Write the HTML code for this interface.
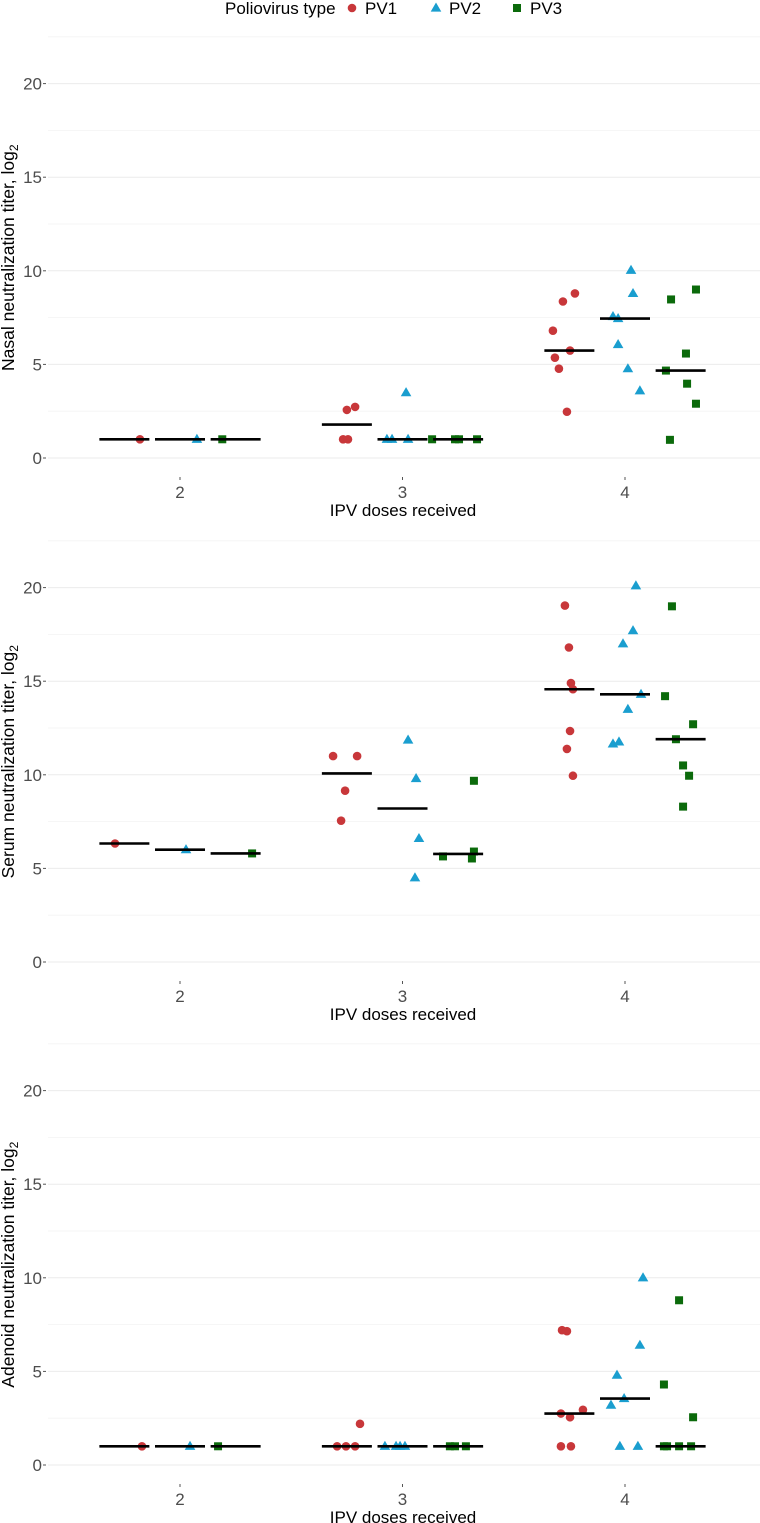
<!DOCTYPE html>
<html><head><meta charset="utf-8"><style>
body{margin:0;background:#fff}
svg{display:block;font-family:"Liberation Sans",sans-serif}
</style></head><body>
<svg id="chart" width="760" height="1523" viewBox="0 0 760 1523"></svg>
<script>
const doses=[2,3,4];
const types=["PV1","PV2","PV3"];
const colors={PV1:"#c8373a",PV2:"#1a9ecf",PV3:"#0b6a0b"};
const yTicks=[0,5,10,15,20];
const yMinor=[2.5,7.5,12.5,17.5,22.5];
const panelTitles=["Nasal","Serum","Adenoid"];
// points: [dose, type, jittered x (dose units), value]
const nasal=[
[2,"PV1",1.82,1],[2,"PV2",2.076,1],[2,"PV3",2.19,1],
[3,"PV1",2.733,1],[3,"PV1",2.755,1],[3,"PV1",2.75,2.57],[3,"PV1",2.787,2.73],
[3,"PV2",2.93,1],[3,"PV2",2.953,1],[3,"PV2",3.025,1],[3,"PV2",3.016,3.49],
[3,"PV3",3.133,1],[3,"PV3",3.236,1],[3,"PV3",3.254,1],[3,"PV3",3.335,1],
[4,"PV1",3.775,8.79],[4,"PV1",3.721,8.36],[4,"PV1",3.676,6.8],[4,"PV1",3.753,5.74],[4,"PV1",3.685,5.36],[4,"PV1",3.703,4.77],[4,"PV1",3.739,2.47],
[4,"PV2",4.027,10.03],[4,"PV2",4.036,8.79],[4,"PV2",3.946,7.56],[4,"PV2",3.969,7.45],[4,"PV2",3.969,6.06],[4,"PV2",4.013,4.77],[4,"PV2",4.067,3.59],
[4,"PV3",4.319,9.0],[4,"PV3",4.207,8.47],[4,"PV3",4.274,5.58],[4,"PV3",4.184,4.67],[4,"PV3",4.279,3.97],[4,"PV3",4.319,2.9],[4,"PV3",4.202,0.97]
];
const serum=[
[2,"PV1",1.708,6.33],[2,"PV2",2.027,6.0],[2,"PV3",2.324,5.8],
[3,"PV1",2.688,11.0],[3,"PV1",2.796,11.0],[3,"PV1",2.742,9.15],[3,"PV1",2.724,7.55],
[3,"PV2",3.025,11.86],[3,"PV2",3.061,9.8],[3,"PV2",3.074,6.6],[3,"PV2",3.056,4.5],
[3,"PV3",3.321,9.68],[3,"PV3",3.182,5.64],[3,"PV3",3.321,5.9],[3,"PV3",3.312,5.53],
[4,"PV1",3.73,19.04],[4,"PV1",3.748,16.8],[4,"PV1",3.757,14.9],[4,"PV1",3.766,14.57],[4,"PV1",3.753,12.34],[4,"PV1",3.739,11.38],[4,"PV1",3.766,9.95],
[4,"PV2",4.049,20.1],[4,"PV2",4.036,17.7],[4,"PV2",3.991,17.0],[4,"PV2",4.072,14.3],[4,"PV2",4.013,13.5],[4,"PV2",3.946,11.65],[4,"PV2",3.973,11.76],
[4,"PV3",4.211,19.0],[4,"PV3",4.18,14.2],[4,"PV3",4.306,12.7],[4,"PV3",4.229,11.9],[4,"PV3",4.261,10.5],[4,"PV3",4.288,9.95],[4,"PV3",4.261,8.3]
];
const adenoid=[
[2,"PV1",1.829,1],[2,"PV2",2.045,1],[2,"PV3",2.171,1],
[3,"PV1",2.706,1],[3,"PV1",2.746,1],[3,"PV1",2.787,1],[3,"PV1",2.809,2.2],
[3,"PV2",2.921,1],[3,"PV2",2.971,1],[3,"PV2",2.989,1],[3,"PV2",3.011,1],
[3,"PV3",3.213,1],[3,"PV3",3.236,1],[3,"PV3",3.285,1],
[4,"PV1",3.717,7.2],[4,"PV1",3.739,7.15],[4,"PV1",3.811,2.95],[4,"PV1",3.712,2.75],[4,"PV1",3.753,2.55],[4,"PV1",3.712,1],[4,"PV1",3.757,1],
[4,"PV2",4.081,10.0],[4,"PV2",4.067,6.4],[4,"PV2",3.964,4.8],[4,"PV2",3.996,3.55],[4,"PV2",3.937,3.2],[4,"PV2",3.977,1],[4,"PV2",4.058,1],
[4,"PV3",4.243,8.8],[4,"PV3",4.175,4.3],[4,"PV3",4.306,2.55],[4,"PV3",4.175,1],[4,"PV3",4.189,1],[4,"PV3",4.243,1],[4,"PV3",4.297,1]
];
const panels=[nasal,serum,adenoid];

const NS="http://www.w3.org/2000/svg";
const svg=document.getElementById("chart");
function mk(tag,attrs,parent){const e=document.createElementNS(NS,tag);for(const k in attrs)e.setAttribute(k,attrs[k]);(parent||svg).appendChild(e);return e;}
const panelZero=[458,962,1465];
const pxPerUnit=18.72;
const xScale=d=>180+(d-2)*222.5;
const typeOffset={PV1:-0.25,PV2:0,PV3:0.25};
function median(a){a=a.slice().sort((p,q)=>p-q);const n=a.length;return n%2?a[(n-1)/2]:(a[n/2-1]+a[n/2])/2;}
function marker(g,type,cx,cy){
  let e;
  if(type==="PV1") e=mk("circle",{cx:cx,cy:cy,r:4.3,fill:colors.PV1},g);
  else if(type==="PV2") e=mk("polygon",{points:`${cx},${cy-5.5} ${cx+5.3},${cy+3.6} ${cx-5.3},${cy+3.6}`,fill:colors.PV2},g);
  else e=mk("rect",{x:cx-4,y:cy-4,width:8,height:8,fill:colors.PV3},g);
  return e;
}

panels.forEach((data,pi)=>{
  const y0=panelZero[pi];
  const yS=v=>y0-v*pxPerUnit;
  const g=mk("g",{});
  
  
  yMinor.forEach(v=>{mk("line",{x1:48,x2:760,y1:yS(v),y2:yS(v),stroke:"#f3f3f3","stroke-width":0.8},g);});
  yTicks.forEach(v=>{
    mk("line",{x1:48,x2:760,y1:yS(v),y2:yS(v),stroke:"#ebebeb","stroke-width":1},g);
    mk("line",{x1:43,x2:46,y1:yS(v),y2:yS(v),stroke:"#555","stroke-width":1},g);
    const t=mk("text",{x:42,y:yS(v)+6,"text-anchor":"end","font-size":17,fill:"#4d4d4d"},g);
    t.textContent=v;
    
    
  });
  doses.forEach(d=>{
    mk("line",{x1:xScale(d),x2:xScale(d),y1:y0+19,y2:y0+22,stroke:"#555","stroke-width":1},g);
    const t=mk("text",{x:xScale(d),y:y0+40,"text-anchor":"middle","font-size":17,fill:"#4d4d4d"},g);
    t.textContent=d;
    
    
  });
  const xt=mk("text",{x:403,y:y0+58,"text-anchor":"middle","font-size":17,fill:"#000"},g);
  xt.textContent="IPV doses received";
  
  
  const cy=y0-10.7*pxPerUnit;
  const yt=mk("text",{x:0,y:0,transform:`translate(14,${cy}) rotate(-90)`,"text-anchor":"middle","font-size":17.5,fill:"#000"},g);
  yt.innerHTML=panelTitles[pi]+' neutralization titer, log<tspan font-size="12" dy="4">2</tspan>';
  
  
  data.forEach(p=>{
    const m=marker(g,p[1],xScale(p[2]),yS(p[3]));
    
    
  });
  doses.forEach(d=>types.forEach(tp=>{
    const vals=data.filter(p=>p[0]===d&&p[1]===tp).map(p=>p[3]);
    if(!vals.length)return;
    const c=xScale(d+typeOffset[tp]);const my=yS(median(vals));
    const l=mk("line",{x1:c-25,x2:c+25,y1:my,y2:my,stroke:"#000","stroke-width":2.6},g);
    
    
  }));
});

// legend
const lg=mk("g",{});


const lt=mk("text",{x:225,y:14,"font-size":17,fill:"#000"},lg);
lt.textContent="Poliovirus type";
const legX={PV1:352,PV2:436,PV3:517};
types.forEach(tp=>{
  const m=marker(lg,tp,legX[tp],8);
  
  
  const t=mk("text",{x:legX[tp]+13,y:14,"font-size":17,fill:"#000"},lg);
  t.textContent=tp;
  
  
});
</script>
</body></html>
